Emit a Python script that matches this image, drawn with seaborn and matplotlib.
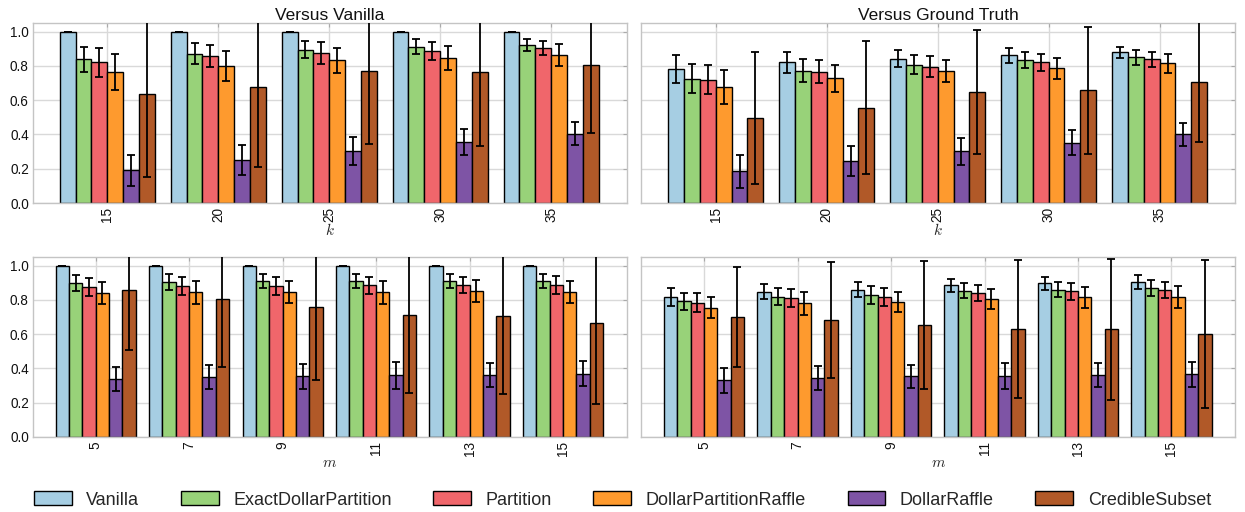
import matplotlib
matplotlib.use('Agg')
import matplotlib.pyplot as plt
import matplotlib.patches as mpatches
import pandas as pd
import seaborn as sns

methods = ["Vanilla", "ExactDollarPartition", "Partition",
           "DollarPartitionRaffle", "DollarRaffle", "CredibleSubset"]
colors = ["#a6cee3", "#98d279", "#f0666b", "#fe9a2e", "#7e54a5", "#b15928"]

k_values = [15, 20, 25, 30, 35]
m_values = [5, 7, 9, 11, 13, 15]

# rows follow `methods`, columns follow k_values / m_values
vanilla_k_mean = [
    [1.0, 1.0, 1.0, 1.0, 1.0],
    [0.839, 0.871, 0.894, 0.912, 0.924],
    [0.820, 0.857, 0.875, 0.885, 0.902],
    [0.765, 0.800, 0.832, 0.845, 0.865],
    [0.190, 0.249, 0.304, 0.355, 0.404],
    [0.634, 0.679, 0.769, 0.763, 0.804],
]
vanilla_k_err = [
    [0.0, 0.0, 0.0, 0.0, 0.0],
    [0.072, 0.060, 0.050, 0.045, 0.035],
    [0.083, 0.063, 0.062, 0.053, 0.041],
    [0.105, 0.086, 0.074, 0.069, 0.063],
    [0.090, 0.087, 0.084, 0.077, 0.067],
    [0.485, 0.470, 0.426, 0.428, 0.398],
]
truth_k_mean = [
    [0.782, 0.820, 0.843, 0.861, 0.879],
    [0.726, 0.773, 0.806, 0.832, 0.849],
    [0.720, 0.767, 0.796, 0.820, 0.839],
    [0.676, 0.728, 0.769, 0.786, 0.814],
    [0.185, 0.247, 0.302, 0.353, 0.402],
    [0.496, 0.555, 0.649, 0.657, 0.706],
]
truth_k_err = [
    [0.081, 0.059, 0.051, 0.045, 0.033],
    [0.086, 0.066, 0.055, 0.047, 0.041],
    [0.086, 0.068, 0.059, 0.051, 0.043],
    [0.098, 0.078, 0.065, 0.061, 0.057],
    [0.097, 0.087, 0.080, 0.071, 0.067],
    [0.386, 0.388, 0.361, 0.369, 0.351],
]
vanilla_m_mean = [
    [1.0, 1.0, 1.0, 1.0, 1.0, 1.0],
    [0.898, 0.904, 0.910, 0.908, 0.908, 0.910],
    [0.875, 0.881, 0.883, 0.885, 0.885, 0.887],
    [0.840, 0.844, 0.846, 0.844, 0.850, 0.846],
    [0.338, 0.350, 0.355, 0.359, 0.363, 0.369],
    [0.857, 0.805, 0.760, 0.709, 0.705, 0.664],
]
vanilla_m_err = [
    [0.0, 0.0, 0.0, 0.0, 0.0, 0.0],
    [0.045, 0.045, 0.041, 0.041, 0.041, 0.043],
    [0.051, 0.051, 0.053, 0.049, 0.047, 0.051],
    [0.066, 0.066, 0.064, 0.066, 0.064, 0.066],
    [0.072, 0.068, 0.073, 0.077, 0.071, 0.072],
    [0.350, 0.397, 0.426, 0.453, 0.457, 0.473],
]
truth_m_mean = [
    [0.816, 0.848, 0.859, 0.885, 0.896, 0.904],
    [0.791, 0.818, 0.828, 0.852, 0.859, 0.869],
    [0.783, 0.811, 0.816, 0.840, 0.850, 0.857],
    [0.754, 0.779, 0.787, 0.805, 0.816, 0.816],
    [0.330, 0.344, 0.354, 0.357, 0.363, 0.365],
    [0.701, 0.682, 0.652, 0.629, 0.629, 0.600],
]
truth_m_err = [
    [0.051, 0.045, 0.045, 0.037, 0.038, 0.039],
    [0.049, 0.049, 0.051, 0.044, 0.045, 0.045],
    [0.055, 0.050, 0.051, 0.047, 0.048, 0.047],
    [0.060, 0.065, 0.059, 0.058, 0.061, 0.063],
    [0.074, 0.072, 0.068, 0.075, 0.071, 0.074],
    [0.290, 0.340, 0.373, 0.402, 0.412, 0.431],
]


def to_frame(params, means, errs, name):
    rows = []
    for i, meth in enumerate(methods):
        for j, p in enumerate(params):
            rows.append({name: str(p), "method": meth,
                         "value": means[i][j], "err": errs[i][j]})
    return pd.DataFrame(rows)


def draw_panel(ax, params, means, errs, name, xlabel, show_ylabels):
    df = to_frame(params, means, errs, name)
    order = [str(p) for p in params]
    sns.barplot(data=df, x=name, y="value", hue="method", order=order,
                hue_order=methods, palette=colors, saturation=1, width=6 / 7,
                errorbar=None, edgecolor="black", linewidth=1,
                legend=False, ax=ax)
    # error bars on top of the seaborn bars
    bar_conts = list(ax.containers)
    for i, cont in enumerate(bar_conts):
        xs = [b.get_x() + b.get_width() / 2 for b in cont]
        ys = [b.get_height() for b in cont]
        ax.errorbar(xs, ys, yerr=errs[i], fmt="none", ecolor="black",
                    elinewidth=1.3, capsize=2.6, capthick=1.3, zorder=5)
    ax.set_xlim(-0.67, len(params) - 0.32)
    ax.set_ylim(0, 1.05)
    ax.set_yticks([0.0, 0.2, 0.4, 0.6, 0.8, 1.0])
    ax.set_yticklabels(["0.0", "0.2", "0.4", "0.6", "0.8", "1.0"] if show_ylabels else [])
    ax.set_xticks(range(len(params)))
    ax.set_xticklabels(order, rotation=90)
    ax.set_xlabel(xlabel, fontsize=11, labelpad=0)
    ax.set_ylabel("")
    ax.tick_params(direction="in", length=3, width=0.8, color="#aaaaaa",
                   labelcolor="#111111", top=True, right=True,
                   labelsize=9.8, pad=3)
    for s in ax.spines.values():
        s.set_color("#c4c4c4")
        s.set_linewidth(1)
    ax.grid(True, color="#d9d9d9", linewidth=1)
    ax.set_axisbelow(True)


sns.set_style("whitegrid")
plt.rcParams['font.family'] = ['Liberation Sans', 'DejaVu Sans']
plt.rcParams['mathtext.fontset'] = 'cm'

fig, axes = plt.subplots(2, 2, figsize=(12.45, 5.12), dpi=100)
fig.subplots_adjust(left=0.0265, right=0.992, top=0.955, bottom=0.1465,
                    wspace=0.025, hspace=0.30)

draw_panel(axes[0, 0], k_values, vanilla_k_mean, vanilla_k_err, "k", "$k$", True)
draw_panel(axes[0, 1], k_values, truth_k_mean, truth_k_err, "k", "$k$", False)
draw_panel(axes[1, 0], m_values, vanilla_m_mean, vanilla_m_err, "m", "$m$", True)
draw_panel(axes[1, 1], m_values, truth_m_mean, truth_m_err, "m", "$m$", False)

axes[0, 0].set_title("Versus Vanilla", fontsize=12.5, pad=2, color="#111111")
axes[0, 1].set_title("Versus Ground Truth", fontsize=12.5, pad=2, color="#111111")

handles = [mpatches.Patch(facecolor=c, edgecolor="black", linewidth=1) for c in colors]
fig.legend(handles, methods, loc="lower center", bbox_to_anchor=(0.5, -0.025),
           ncol=6, frameon=False, handlelength=2.1, handleheight=0.8,
           handletextpad=0.8, columnspacing=2.3,
           prop={"family": ["Liberation Sans"], "size": 13})

fig.savefig("out.png", dpi=100)
plt.close(fig)
